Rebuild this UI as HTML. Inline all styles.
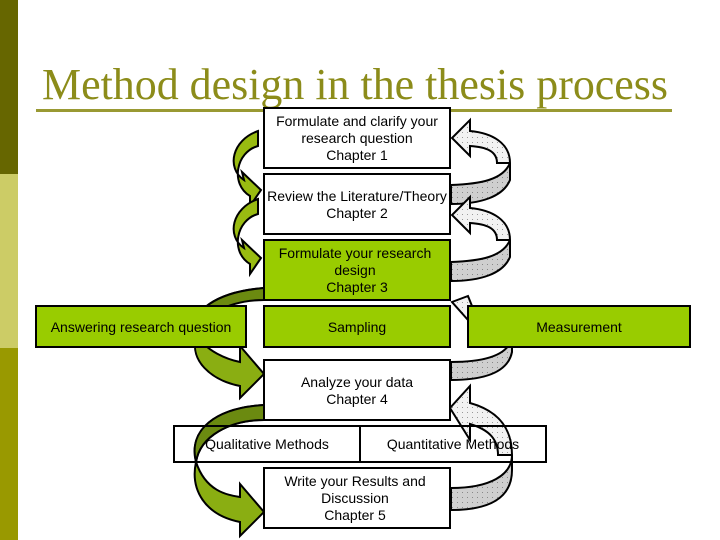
<!DOCTYPE html>
<html><head><meta charset="utf-8"><style>
body{margin:0;width:720px;height:540px;background:#fff;overflow:hidden}
svg{display:block}
text{font-family:"Liberation Sans",sans-serif;font-size:14px;fill:#000}
</style></head><body>
<svg width="720" height="540" viewBox="0 0 720 540">
<defs>
<pattern id="dot" width="5" height="5" patternUnits="userSpaceOnUse"><rect width="5" height="5" fill="#f2f2f2"/><rect x="2" y="2" width="1" height="1" fill="#999"/></pattern>
<pattern id="dot2" width="5" height="5" patternUnits="userSpaceOnUse"><rect width="5" height="5" fill="#cfcfcf"/><rect x="2" y="2" width="1" height="1" fill="#888"/></pattern>
<g id="rarrow" stroke="#000" stroke-width="2">
<path d="M451,185 C480,184 503,180 510,163 L510,180 C503,197 480,204 451,204 Z" fill="url(#dot2)"/>
<path d="M510,163 C510,143 492,133 470,131 L470,120 L452,138 L470,156 L470,146 C486,147 497,151 497,163 Z" fill="url(#dot)"/>
</g>
<g id="larrow" stroke="#000" stroke-width="2" fill="#99bb11">
<path d="M258,131 C232,140 226,168 244,180 L242,172 L261,190 L250,206 L250,196 C230,184 236,152 258,146 Z"/>
</g>
</defs>
<rect x="0" y="0" width="18" height="174" fill="#666600"/>
<rect x="0" y="174" width="18" height="174" fill="#cccc66"/>
<rect x="0" y="348" width="18" height="192" fill="#999900"/>
<text x="42" y="99" style="font-family:'Liberation Serif',serif;font-size:44px;fill:#8c8c1a" textLength="626" lengthAdjust="spacingAndGlyphs">Method design in the thesis process</text>
<rect x="36" y="109" width="636" height="3" fill="#999933"/>

<use href="#rarrow"/>
<use href="#rarrow" transform="translate(0,77)"/>
<use href="#larrow"/>
<use href="#larrow" transform="translate(0,68)"/>

<g stroke="#000" stroke-width="2">
<path d="M451,362 C485,362 508,355 512,338 L512,352 C508,372 485,380 451,380 Z" fill="url(#dot2)"/>
<path d="M512,338 C512,318 495,308 472,306 L468,296 L452,302 L468,320 L468,316 C485,318 498,325 498,338 Z" fill="url(#dot)"/>
<path d="M451,488 C490,488 512,475 512,455 L512,470 C512,498 490,510 451,510 Z" fill="url(#dot2)"/>
<path d="M512,455 C512,425 495,410 470,403 L470,386 L450,408 L470,440 L470,424 C490,430 498,440 498,455 Z" fill="url(#dot)"/>
</g>
<g stroke="#000" stroke-width="2">
<path d="M264,288 C215,292 190,312 196,332 C204,352 230,360 240,362 L240,346 L264,374 L240,398 L240,386 C210,380 190,360 196,338 L196,332 C190,312 220,300 264,300 Z" fill="#8aae12"/>
<path d="M264,405 C215,408 188,430 196,462 C206,492 228,495 240,497 L240,484 L264,512 L240,536 L240,522 C205,515 190,490 196,462 C200,436 230,420 264,420 Z" fill="#8aae12"/>
<path d="M264,288 C215,292 190,312 196,332 C198,320 225,300 264,300 Z" fill="#6b8a10"/>
<path d="M264,405 C215,408 188,430 196,462 C200,436 230,420 264,420 Z" fill="#6b8a10"/>
</g>

<g stroke="#000" stroke-width="2">
<rect x="264" y="108" width="186" height="60" fill="#fff"/>
<rect x="264" y="174" width="186" height="60" fill="#fff"/>
<rect x="264" y="240" width="186" height="60" fill="#99cc00"/>
<rect x="36" y="306" width="210" height="41" fill="#99cc00"/>
<rect x="264" y="306" width="186" height="41" fill="#99cc00"/>
<rect x="468" y="306" width="222" height="41" fill="#99cc00"/>
<rect x="264" y="360" width="186" height="60" fill="#fff"/>
<rect x="174" y="426" width="372" height="36" fill="none"/>
<line x1="360" y1="426" x2="360" y2="462"/>
<rect x="264" y="468" width="186" height="60" fill="#fff"/>
</g>
<g text-anchor="middle">
<text x="357" y="126">Formulate and clarify your</text>
<text x="357" y="143">research question</text>
<text x="357" y="160">Chapter 1</text>
<text x="357" y="201">Review the Literature/Theory</text>
<text x="357" y="218">Chapter 2</text>
<text x="355" y="258">Formulate your research</text>
<text x="355" y="275">design</text>
<text x="357" y="292">Chapter 3</text>
<text x="141" y="332">Answering research question</text>
<text x="357" y="332">Sampling</text>
<text x="579" y="332">Measurement</text>
<text x="357" y="387">Analyze your data</text>
<text x="357" y="404">Chapter 4</text>
<text x="267" y="449">Qualitative Methods</text>
<text x="453" y="449">Quantitative Methods</text>
<text x="355" y="486">Write your Results and</text>
<text x="355" y="503">Discussion</text>
<text x="355" y="520">Chapter 5</text>
</g>
</svg>
</body></html>
